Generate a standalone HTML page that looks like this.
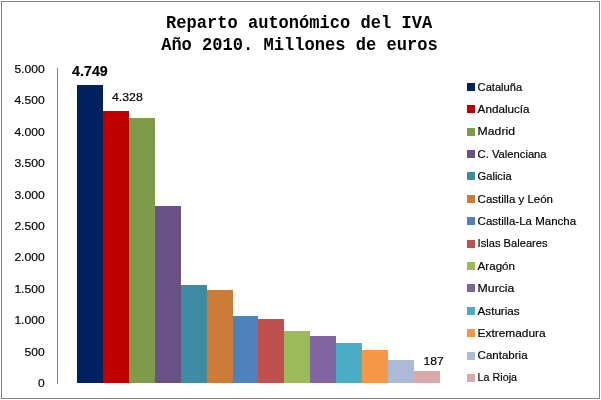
<!DOCTYPE html>
<html lang="es"><head><meta charset="utf-8"><title>Reparto autonómico del IVA</title>
<style>
html,body{margin:0;padding:0;background:#fff;}
svg{display:block;}
text{font-family:"Liberation Sans",sans-serif;fill:#000;stroke:#000;stroke-width:0.18px;}
.t{font-family:"Liberation Mono",monospace;font-weight:bold;font-size:17.5px;text-anchor:middle;stroke:none;}
.a{font-size:11.5px;text-anchor:end;}
.l{font-size:11.5px;}
</style></head><body>
<svg width="601" height="400" viewBox="0 0 601 400">
<rect x="0" y="0" width="601" height="400" fill="#fff"/>
<rect x="1.5" y="1.5" width="598" height="397" fill="none" stroke="#868686" stroke-width="1"/>
<text class="t" x="299.1" y="28" textLength="266.2" lengthAdjust="spacingAndGlyphs">Reparto autonómico del IVA</text>
<text class="t" x="299.4" y="49.5" textLength="276.5" lengthAdjust="spacingAndGlyphs">Año 2010. Millones de euros</text>
<rect x="57" y="68" width="1" height="316" fill="#868686"/>

<text class="a" x="44.7" y="387.0" textLength="6.7" lengthAdjust="spacingAndGlyphs">0</text>
<text class="a" x="44.7" y="355.6" textLength="20.2" lengthAdjust="spacingAndGlyphs">500</text>
<text class="a" x="44.7" y="324.2" textLength="30.3" lengthAdjust="spacingAndGlyphs">1.000</text>
<text class="a" x="44.7" y="292.8" textLength="30.3" lengthAdjust="spacingAndGlyphs">1.500</text>
<text class="a" x="44.7" y="261.4" textLength="30.3" lengthAdjust="spacingAndGlyphs">2.000</text>
<text class="a" x="44.7" y="230.0" textLength="30.3" lengthAdjust="spacingAndGlyphs">2.500</text>
<text class="a" x="44.7" y="198.6" textLength="30.3" lengthAdjust="spacingAndGlyphs">3.000</text>
<text class="a" x="44.7" y="167.2" textLength="30.3" lengthAdjust="spacingAndGlyphs">3.500</text>
<text class="a" x="44.7" y="135.8" textLength="30.3" lengthAdjust="spacingAndGlyphs">4.000</text>
<text class="a" x="44.7" y="104.4" textLength="30.3" lengthAdjust="spacingAndGlyphs">4.500</text>
<text class="a" x="44.7" y="73.0" textLength="30.3" lengthAdjust="spacingAndGlyphs">5.000</text>
<rect x="77" y="85" width="26" height="298" fill="#002060"/>
<rect x="103" y="111" width="26" height="272" fill="#C00000"/>
<rect x="129" y="118" width="26" height="265" fill="#7F9A48"/>
<rect x="155" y="206" width="26" height="177" fill="#695185"/>
<rect x="181" y="285" width="26" height="98" fill="#3C8DA3"/>
<rect x="207" y="290" width="26" height="93" fill="#CC7B38"/>
<rect x="233" y="316" width="25" height="67" fill="#4F81BD"/>
<rect x="258" y="319" width="26" height="64" fill="#C0504D"/>
<rect x="284" y="331" width="26" height="52" fill="#9BBB59"/>
<rect x="310" y="336" width="26" height="47" fill="#8064A2"/>
<rect x="336" y="343" width="26" height="40" fill="#4BACC6"/>
<rect x="362" y="350" width="26" height="33" fill="#F79646"/>
<rect x="388" y="360" width="26" height="23" fill="#AABAD7"/>
<rect x="414" y="371" width="26" height="12" fill="#D9AAA9"/>
<text x="72.1" y="75.5" font-size="14" font-weight="bold" stroke="none" textLength="35.7" lengthAdjust="spacingAndGlyphs">4.749</text>
<text class="l" x="112" y="101.1" textLength="30.8" lengthAdjust="spacingAndGlyphs">4.328</text>
<text class="l" x="423.4" y="365" textLength="20.3" lengthAdjust="spacingAndGlyphs">187</text>
<rect x="467" y="83" width="8" height="8" fill="#002060"/>
<text class="l" x="477.6" y="90.85" textLength="44.6" lengthAdjust="spacingAndGlyphs">Cataluña</text>
<rect x="467" y="105" width="8" height="8" fill="#C00000"/>
<text class="l" x="477.6" y="112.85" textLength="52" lengthAdjust="spacingAndGlyphs">Andalucía</text>
<rect x="467" y="128" width="8" height="8" fill="#7F9A48"/>
<text class="l" x="477.6" y="134.85" textLength="37.4" lengthAdjust="spacingAndGlyphs">Madrid</text>
<rect x="467" y="150" width="8" height="8" fill="#695185"/>
<text class="l" x="477.6" y="157.85" textLength="69" lengthAdjust="spacingAndGlyphs">C. Valenciana</text>
<rect x="467" y="172" width="8" height="8" fill="#3C8DA3"/>
<text class="l" x="477.6" y="179.85" textLength="34" lengthAdjust="spacingAndGlyphs">Galicia</text>
<rect x="467" y="195" width="8" height="8" fill="#CC7B38"/>
<text class="l" x="477.6" y="202.85" textLength="75.4" lengthAdjust="spacingAndGlyphs">Castilla y León</text>
<rect x="467" y="217" width="8" height="8" fill="#4F81BD"/>
<text class="l" x="477.6" y="224.85" textLength="98.5" lengthAdjust="spacingAndGlyphs">Castilla-La Mancha</text>
<rect x="467" y="240" width="8" height="8" fill="#C0504D"/>
<text class="l" x="477.6" y="246.85" textLength="70" lengthAdjust="spacingAndGlyphs">Islas Baleares</text>
<rect x="467" y="262" width="8" height="8" fill="#9BBB59"/>
<text class="l" x="477.6" y="269.85" textLength="37.4" lengthAdjust="spacingAndGlyphs">Aragón</text>
<rect x="467" y="284" width="8" height="8" fill="#8064A2"/>
<text class="l" x="477.6" y="291.85" textLength="36.8" lengthAdjust="spacingAndGlyphs">Murcia</text>
<rect x="467" y="307" width="8" height="8" fill="#4BACC6"/>
<text class="l" x="477.6" y="314.85" textLength="42" lengthAdjust="spacingAndGlyphs">Asturias</text>
<rect x="467" y="329" width="8" height="8" fill="#F79646"/>
<text class="l" x="477.6" y="336.85" textLength="68" lengthAdjust="spacingAndGlyphs">Extremadura</text>
<rect x="467" y="352" width="8" height="8" fill="#AABAD7"/>
<text class="l" x="477.6" y="358.85" textLength="50" lengthAdjust="spacingAndGlyphs">Cantabria</text>
<rect x="467" y="374" width="8" height="8" fill="#D9AAA9"/>
<text class="l" x="477.6" y="381.35" textLength="39.4" lengthAdjust="spacingAndGlyphs">La Rioja</text>
</svg></body></html>
